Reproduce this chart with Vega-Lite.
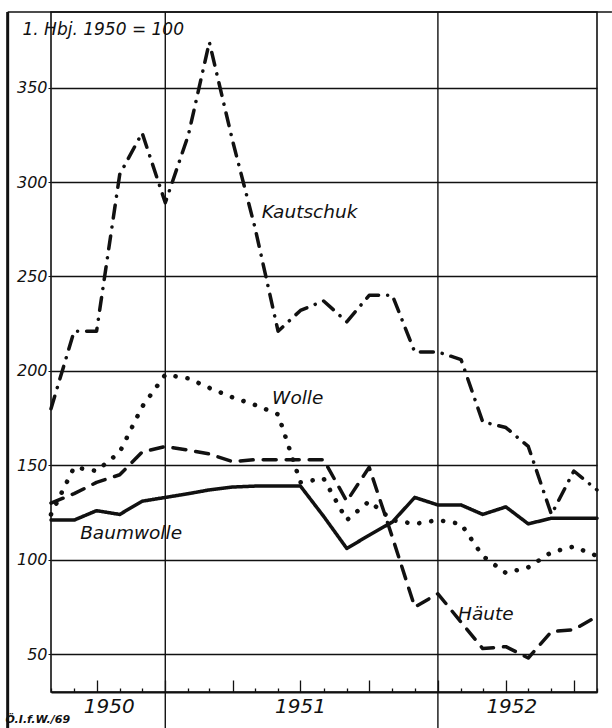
{
  "$schema": "https://vega.github.io/schema/vega-lite/v6.json",
  "width": 546,
  "height": 680,
  "autosize": {"type": "none"},
  "padding": {"left": 51, "top": 12, "right": 15, "bottom": 36},
  "background": "white",
  "config": {
    "view": {"stroke": "#111", "strokeWidth": 1.6},
    "font": "DejaVu Sans"
  },
  "datasets": {
    "series": [
      {"d": "1950-08-01", "s": "Kautschuk", "v": 180}, {"d": "1950-09-01", "s": "Kautschuk", "v": 221}, {"d": "1950-10-01", "s": "Kautschuk", "v": 221}, {"d": "1950-11-01", "s": "Kautschuk", "v": 304}, {"d": "1950-12-01", "s": "Kautschuk", "v": 326}, {"d": "1951-01-01", "s": "Kautschuk", "v": 289}, {"d": "1951-02-01", "s": "Kautschuk", "v": 325}, {"d": "1951-03-01", "s": "Kautschuk", "v": 374}, {"d": "1951-04-01", "s": "Kautschuk", "v": 322}, {"d": "1951-05-01", "s": "Kautschuk", "v": 276}, {"d": "1951-06-01", "s": "Kautschuk", "v": 221}, {"d": "1951-07-01", "s": "Kautschuk", "v": 232}, {"d": "1951-08-01", "s": "Kautschuk", "v": 237}, {"d": "1951-09-01", "s": "Kautschuk", "v": 226}, {"d": "1951-10-01", "s": "Kautschuk", "v": 240}, {"d": "1951-11-01", "s": "Kautschuk", "v": 240}, {"d": "1951-12-01", "s": "Kautschuk", "v": 210}, {"d": "1952-01-01", "s": "Kautschuk", "v": 210}, {"d": "1952-02-01", "s": "Kautschuk", "v": 206}, {"d": "1952-03-01", "s": "Kautschuk", "v": 173}, {"d": "1952-04-01", "s": "Kautschuk", "v": 170}, {"d": "1952-05-01", "s": "Kautschuk", "v": 160}, {"d": "1952-06-01", "s": "Kautschuk", "v": 124}, {"d": "1952-07-01", "s": "Kautschuk", "v": 147}, {"d": "1952-08-01", "s": "Kautschuk", "v": 137},
      {"d": "1950-08-01", "s": "Wolle", "v": 124}, {"d": "1950-09-01", "s": "Wolle", "v": 149}, {"d": "1950-10-01", "s": "Wolle", "v": 147}, {"d": "1950-11-01", "s": "Wolle", "v": 157}, {"d": "1950-12-01", "s": "Wolle", "v": 181}, {"d": "1951-01-01", "s": "Wolle", "v": 198}, {"d": "1951-02-01", "s": "Wolle", "v": 196}, {"d": "1951-03-01", "s": "Wolle", "v": 191}, {"d": "1951-04-01", "s": "Wolle", "v": 186}, {"d": "1951-05-01", "s": "Wolle", "v": 182}, {"d": "1951-06-01", "s": "Wolle", "v": 177}, {"d": "1951-07-01", "s": "Wolle", "v": 141}, {"d": "1951-08-01", "s": "Wolle", "v": 143}, {"d": "1951-09-01", "s": "Wolle", "v": 121}, {"d": "1951-10-01", "s": "Wolle", "v": 131}, {"d": "1951-11-01", "s": "Wolle", "v": 121}, {"d": "1951-12-01", "s": "Wolle", "v": 119}, {"d": "1952-01-01", "s": "Wolle", "v": 121}, {"d": "1952-02-01", "s": "Wolle", "v": 119}, {"d": "1952-03-01", "s": "Wolle", "v": 102}, {"d": "1952-04-01", "s": "Wolle", "v": 93}, {"d": "1952-05-01", "s": "Wolle", "v": 96}, {"d": "1952-06-01", "s": "Wolle", "v": 104}, {"d": "1952-07-01", "s": "Wolle", "v": 107}, {"d": "1952-08-01", "s": "Wolle", "v": 102},
      {"d": "1950-08-01", "s": "Häute", "v": 130}, {"d": "1950-09-01", "s": "Häute", "v": 135}, {"d": "1950-10-01", "s": "Häute", "v": 141}, {"d": "1950-11-01", "s": "Häute", "v": 145}, {"d": "1950-12-01", "s": "Häute", "v": 157}, {"d": "1951-01-01", "s": "Häute", "v": 160}, {"d": "1951-02-01", "s": "Häute", "v": 158}, {"d": "1951-03-01", "s": "Häute", "v": 156}, {"d": "1951-04-01", "s": "Häute", "v": 152}, {"d": "1951-05-01", "s": "Häute", "v": 153}, {"d": "1951-06-01", "s": "Häute", "v": 153}, {"d": "1951-07-01", "s": "Häute", "v": 153}, {"d": "1951-08-01", "s": "Häute", "v": 153}, {"d": "1951-09-01", "s": "Häute", "v": 131}, {"d": "1951-10-01", "s": "Häute", "v": 149}, {"d": "1951-11-01", "s": "Häute", "v": 112}, {"d": "1951-12-01", "s": "Häute", "v": 75}, {"d": "1952-01-01", "s": "Häute", "v": 82}, {"d": "1952-02-01", "s": "Häute", "v": 67}, {"d": "1952-03-01", "s": "Häute", "v": 53}, {"d": "1952-04-01", "s": "Häute", "v": 54}, {"d": "1952-05-01", "s": "Häute", "v": 48}, {"d": "1952-06-01", "s": "Häute", "v": 62}, {"d": "1952-07-01", "s": "Häute", "v": 63}, {"d": "1952-08-01", "s": "Häute", "v": 70},
      {"d": "1950-08-01", "s": "Baumwolle", "v": 121}, {"d": "1950-09-01", "s": "Baumwolle", "v": 121}, {"d": "1950-10-01", "s": "Baumwolle", "v": 126}, {"d": "1950-11-01", "s": "Baumwolle", "v": 124}, {"d": "1950-12-01", "s": "Baumwolle", "v": 131}, {"d": "1951-01-01", "s": "Baumwolle", "v": 133}, {"d": "1951-02-01", "s": "Baumwolle", "v": 135}, {"d": "1951-03-01", "s": "Baumwolle", "v": 137}, {"d": "1951-04-01", "s": "Baumwolle", "v": 138.5}, {"d": "1951-05-01", "s": "Baumwolle", "v": 139}, {"d": "1951-06-01", "s": "Baumwolle", "v": 139}, {"d": "1951-07-01", "s": "Baumwolle", "v": 139}, {"d": "1951-08-01", "s": "Baumwolle", "v": 123}, {"d": "1951-09-01", "s": "Baumwolle", "v": 106}, {"d": "1951-10-01", "s": "Baumwolle", "v": 113}, {"d": "1951-11-01", "s": "Baumwolle", "v": 120}, {"d": "1951-12-01", "s": "Baumwolle", "v": 133}, {"d": "1952-01-01", "s": "Baumwolle", "v": 129}, {"d": "1952-02-01", "s": "Baumwolle", "v": 129}, {"d": "1952-03-01", "s": "Baumwolle", "v": 124}, {"d": "1952-04-01", "s": "Baumwolle", "v": 128}, {"d": "1952-05-01", "s": "Baumwolle", "v": 119}, {"d": "1952-06-01", "s": "Baumwolle", "v": 122}, {"d": "1952-07-01", "s": "Baumwolle", "v": 122}, {"d": "1952-08-01", "s": "Baumwolle", "v": 122}
    ],
    "yearlines": [{"d": "1951-01-01", "lo": 11, "hi": 390}, {"d": "1952-01-01", "lo": 11, "hi": 390}],
    "yearlabels": [
      {"d": "1950-10-18", "v": 19, "t": "1950"},
      {"d": "1951-07-01", "v": 19, "t": "1951"},
      {"d": "1952-04-09", "v": 19, "t": "1952"}
    ],
    "serieslabels": [
      {"d": "1951-05-10", "v": 281, "t": "Kautschuk"},
      {"d": "1951-05-24", "v": 182.5, "t": "Wolle"},
      {"d": "1950-09-09", "v": 111, "t": "Baumwolle"},
      {"d": "1952-01-28", "v": 68, "t": "Häute"}
    ],
    "frameleft": [{"d": "1950-06-04", "lo": 11, "hi": 390}],
    "frametop": [{"d": "1950-06-04", "d2": "1952-08-21", "v": 390}]
  },
  "layer": [
    {
      "data": {"name": "frameleft"},
      "mark": {"type": "rule", "color": "#111", "strokeWidth": 3},
      "encoding": {
        "x": {"field": "d", "type": "temporal", "scale": {"type": "utc", "domain": [{"year": 1950, "month": 8, "date": 1, "utc": true}, {"year": 1952, "month": 8, "date": 1, "utc": true}]}},
        "y": {"field": "lo", "type": "quantitative", "scale": {"domain": [30, 390], "nice": false, "zero": false}},
        "y2": {"field": "hi"}
      }
    },
    {
      "data": {"name": "frametop"},
      "mark": {"type": "rule", "color": "#111", "strokeWidth": 1.6},
      "encoding": {
        "x": {"field": "d", "type": "temporal", "scale": {"type": "utc", "domain": [{"year": 1950, "month": 8, "date": 1, "utc": true}, {"year": 1952, "month": 8, "date": 1, "utc": true}]}},
        "x2": {"field": "d2"},
        "y": {"field": "v", "type": "quantitative", "scale": {"domain": [30, 390], "nice": false, "zero": false}}
      }
    },
    {
      "data": {"name": "yearlines"},
      "mark": {"type": "rule", "color": "#111", "strokeWidth": 1.4},
      "encoding": {
        "x": {"field": "d", "type": "temporal", "scale": {"type": "utc", "domain": [{"year": 1950, "month": 8, "date": 1, "utc": true}, {"year": 1952, "month": 8, "date": 1, "utc": true}]}},
        "y": {"field": "lo", "type": "quantitative", "scale": {"domain": [30, 390], "nice": false, "zero": false}},
        "y2": {"field": "hi"}
      }
    },
    {
      "data": {"name": "series"},
      "transform": [{"filter": "datum.s !== 'Wolle'"}],
      "mark": {"type": "line", "color": "#111", "strokeWidth": 3.5, "strokeCap": "round", "strokeJoin": "round"},
      "encoding": {
        "x": {
          "field": "d",
          "type": "temporal",
          "scale": {"type": "utc", "domain": [{"year": 1950, "month": 8, "date": 1, "utc": true}, {"year": 1952, "month": 8, "date": 1, "utc": true}]},
          "axis": {
            "grid": false,
            "labels": false,
            "tickCount": {"interval": "month", "step": 1},
            "domainColor": "#111",
            "domainWidth": 2,
            "tickColor": "#111",
            "tickWidth": 1.3,
            "tickSize": {"condition": {"test": "utcmonth(datum.value) % 3 === 0", "value": -12}, "value": -4},
            "title": "Ö.I.f.W./69",
            "titleX": -46,
            "titleY": 30,
            "titleAlign": "left",
            "titleBaseline": "alphabetic",
            "titleFontSize": 11,
            "titleFontWeight": "bold",
            "titleFontStyle": "italic",
            "titleColor": "#111"
          }
        },
        "y": {
          "field": "v",
          "type": "quantitative",
          "scale": {"domain": [30, 390], "nice": false, "zero": false},
          "axis": {
            "values": [50, 100, 150, 200, 250, 300, 350],
            "grid": true,
            "gridColor": "#111",
            "gridWidth": 1.4,
            "gridOpacity": 1,
            "domain": false,
            "tickColor": "#111",
            "tickSize": 3,
            "labelFontSize": 16,
            "labelFontStyle": "italic",
            "labelColor": "#111",
            "labelPadding": 1,
            "labelBaseline": "middle",
            "title": "1. Hbj. 1950 = 100",
            "titleAngle": 0,
            "titleX": -29,
            "titleY": 22,
            "titleAlign": "left",
            "titleBaseline": "alphabetic",
            "titleFontSize": 17,
            "titleFontStyle": "italic",
            "titleFontWeight": "normal",
            "titleColor": "#111"
          }
        },
        "detail": {"field": "s"},
        "strokeDash": {
          "field": "s",
          "type": "nominal",
          "scale": {
            "domain": ["Kautschuk", "Häute", "Baumwolle"],
            "range": [[13, 9, 0.1, 9], [13, 10], [1, 0]]
          },
          "legend": null
        }
      }
    },
    {
      "data": {"name": "series"},
      "transform": [{"filter": "datum.s === 'Wolle'"}],
      "mark": {"type": "line", "color": "#111", "strokeWidth": 4.6, "strokeCap": "round", "strokeJoin": "round", "strokeDash": [0.1, 12]},
      "encoding": {
        "x": {"field": "d", "type": "temporal", "scale": {"type": "utc", "domain": [{"year": 1950, "month": 8, "date": 1, "utc": true}, {"year": 1952, "month": 8, "date": 1, "utc": true}]}},
        "y": {"field": "v", "type": "quantitative", "scale": {"domain": [30, 390], "nice": false, "zero": false}}
      }
    },
    {
      "data": {"name": "yearlabels"},
      "mark": {"type": "text", "fontSize": 20, "fontStyle": "italic", "color": "#111", "align": "center", "baseline": "alphabetic"},
      "encoding": {
        "x": {"field": "d", "type": "temporal", "scale": {"type": "utc", "domain": [{"year": 1950, "month": 8, "date": 1, "utc": true}, {"year": 1952, "month": 8, "date": 1, "utc": true}]}},
        "y": {"field": "v", "type": "quantitative", "scale": {"domain": [30, 390], "nice": false, "zero": false}},
        "text": {"field": "t"}
      }
    },
    {
      "data": {"name": "serieslabels"},
      "mark": {"type": "text", "fontSize": 18.5, "fontStyle": "italic", "color": "#111", "align": "left", "baseline": "alphabetic"},
      "encoding": {
        "x": {"field": "d", "type": "temporal", "scale": {"type": "utc", "domain": [{"year": 1950, "month": 8, "date": 1, "utc": true}, {"year": 1952, "month": 8, "date": 1, "utc": true}]}},
        "y": {"field": "v", "type": "quantitative", "scale": {"domain": [30, 390], "nice": false, "zero": false}},
        "text": {"field": "t"}
      }
    }
  ]
}
